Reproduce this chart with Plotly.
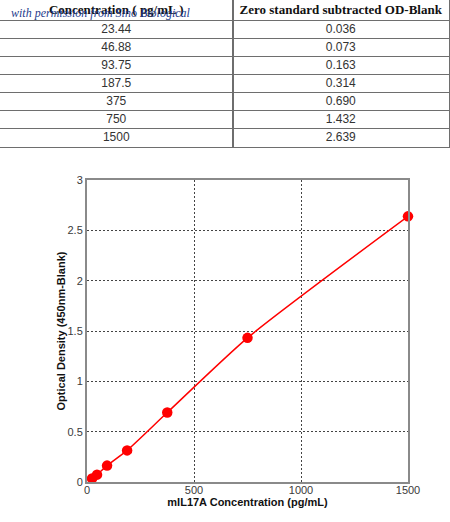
import plotly.graph_objects as go

W, H = 450, 522

# standard curve data (table + chart)
CONCENTRATION = [23.44, 46.88, 93.75, 187.5, 375, 750, 1500]
OD_BLANK = [0.036, 0.073, 0.163, 0.314, 0.690, 1.432, 2.639]
TABLE_HEADER = ["Concentration ( pg/mL )", "Zero standard subtracted OD-Blank"]
X_TICKS = [0, 500, 1000, 1500]
Y_TICKS = [0, 0.5, 1, 1.5, 2, 2.5, 3]

TICK_FONT = dict(family="Liberation Sans, Arial, sans-serif", size=11, color="#3a3a3a")
TITLE_FONT = dict(family="Liberation Sans, Arial, sans-serif", size=11, color="#111111")
AXIS_LINE = "#8a8a8a"
GRID = "#444444"
TABLE_LINE = "#6e6e6e"

# table geometry (in table units ~ pixels)
HEADER_H = 20.5
ROW_H = 18
TABLE_W = 448
COL_SPLIT = 232


def px_x(p):
    return p / W


def px_y(p):
    return 1 - p / H


n_rows = len(CONCENTRATION)
table_h = HEADER_H + n_rows * ROW_H
row_edges = [0, HEADER_H] + [HEADER_H + (i + 1) * ROW_H for i in range(n_rows)]
row_mid = [HEADER_H + (i + 0.5) * ROW_H for i in range(n_rows)]
col_mid = [COL_SPLIT / 2, (COL_SPLIT + TABLE_W) / 2]

fig = go.Figure()

# table header
fig.add_trace(go.Scatter(
    x=col_mid,
    y=[HEADER_H / 2 + 0.5] * 2,
    text=[f"<b>{h}</b>" for h in TABLE_HEADER],
    mode="text",
    textposition="middle center",
    textfont=dict(family="Liberation Serif, Times New Roman, serif", size=13, color="#111111"),
    xaxis="x2", yaxis="y2",
    cliponaxis=False,
    hoverinfo="skip",
))

# table body
fig.add_trace(go.Scatter(
    x=[col_mid[0]] * n_rows + [col_mid[1]] * n_rows,
    y=row_mid + row_mid,
    text=[str(c) for c in CONCENTRATION] + [f"{v:.3f}" for v in OD_BLANK],
    mode="text",
    textposition="middle center",
    textfont=dict(family="Liberation Sans, Arial, sans-serif", size=12, color="#333333"),
    xaxis="x2", yaxis="y2",
    cliponaxis=False,
    hoverinfo="skip",
))

# standard curve
fig.add_trace(go.Scatter(
    x=CONCENTRATION,
    y=OD_BLANK,
    mode="lines+markers",
    line=dict(color="#ff0000", width=1.5, shape="spline", smoothing=0.6),
    marker=dict(color="#ff0000", size=10.5, symbol="circle"),
    cliponaxis=False,
))

fig.update_layout(
    width=W,
    height=H,
    margin=dict(l=0, r=0, t=0, b=0, autoexpand=False),
    paper_bgcolor="white",
    plot_bgcolor="white",
    showlegend=False,
    xaxis=dict(
        domain=[px_x(87), px_x(408)],
        range=[0, 1500],
        tickvals=X_TICKS,
        ticks="",
        ticklen=0,
        ticklabelstandoff=-3,
        tickfont=TICK_FONT,
        showgrid=True,
        gridcolor=GRID,
        griddash="2px,2px",
        gridwidth=1,
        zeroline=False,
        showline=True,
        linecolor=AXIS_LINE,
        linewidth=2,
        mirror=True,
        automargin=False,
        title=dict(text="<b>mIL17A Concentration (pg/mL)</b>", font=TITLE_FONT, standoff=1),
    ),
    yaxis=dict(
        domain=[px_y(482), px_y(180)],
        range=[0, 3],
        tickvals=Y_TICKS,
        ticktext=[str(t) for t in Y_TICKS],
        ticks="",
        ticklen=0,
        tickfont=TICK_FONT,
        showgrid=True,
        gridcolor=GRID,
        griddash="2px,2px",
        gridwidth=1,
        zeroline=False,
        showline=True,
        linecolor=AXIS_LINE,
        linewidth=2,
        mirror=True,
        automargin=False,
        title=dict(text="<b>Optical Density (450nm-Blank)</b>", font=TITLE_FONT, standoff=0),
    ),
    xaxis2=dict(
        domain=[0, px_x(TABLE_W + 1)],
        range=[0, TABLE_W],
        anchor="y2",
        tickvals=[COL_SPLIT],
        showticklabels=False,
        ticks="",
        showgrid=True,
        gridcolor=TABLE_LINE,
        gridwidth=2,
        zeroline=False,
        showline=True,
        linecolor=TABLE_LINE,
        linewidth=1,
        mirror=True,
        fixedrange=True,
    ),
    yaxis2=dict(
        domain=[px_y(table_h + 0.5), 1],
        range=[table_h, 0],
        anchor="x2",
        tickvals=row_edges[1:-1],
        showticklabels=False,
        ticks="",
        showgrid=True,
        gridcolor=TABLE_LINE,
        gridwidth=1,
        zeroline=False,
        showline=True,
        linecolor=TABLE_LINE,
        linewidth=1,
        mirror=True,
        fixedrange=True,
    ),
    annotations=[dict(
        text="with permission from Sino Biological",
        xref="paper", yref="paper",
        x=px_x(9), y=px_y(13),
        xanchor="left", yanchor="middle",
        showarrow=False,
        font=dict(family="Liberation Serif, DejaVu Serif, serif", size=12,
                  color="#1f3c8c", style="italic"),
    )],
)

fig.write_html(
    "out.html",
    config={"displayModeBar": False},
    post_script="document.body.style.margin='0px';",
)
